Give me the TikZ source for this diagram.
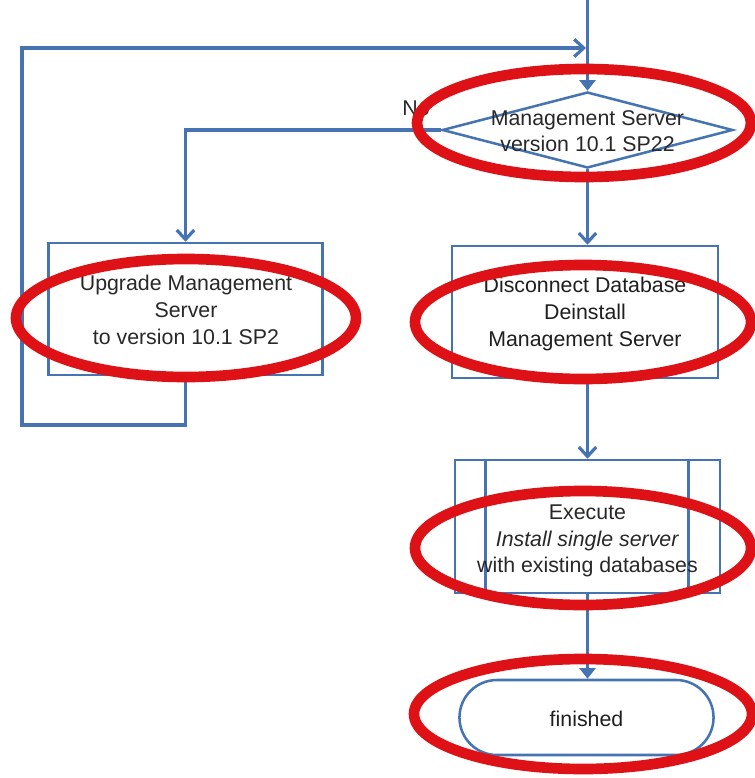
\documentclass[tikz,border=0pt]{standalone}
\usepackage{fontspec}
\setmainfont{Liberation Sans}
\usetikzlibrary{shapes.geometric,shapes.misc,arrows.meta}
\definecolor{flowblue}{RGB}{70,116,178}
\definecolor{markred}{RGB}{222,18,22}
\definecolor{txtgray}{RGB}{40,40,40}
\tikzset{
  flowline/.style={draw=flowblue, line width=2.4pt},
  boxline/.style={draw=flowblue, line width=1.9pt, fill=white},
  barb/.style={-{Straight Barb[length=7pt,width=13pt,line width=2.4pt]}},
  tri/.style={-{Triangle[length=8pt,width=12pt]}},
  txt/.style={text=txtgray, font=\fontsize{16}{20}\selectfont, align=center, inner sep=0pt},
  markell/.style={draw=markred, line width=8pt},
}
\begin{document}
\begin{tikzpicture}[x=0.75pt,y=-0.75pt]
\useasboundingbox (0,0) rectangle (754,778);
% nodes
\node[diamond, boxline, minimum width=218pt, minimum height=57pt, inner sep=0pt] (dec) at (587.5,130) {};
\node[txt] (dectxt) at (587.5,131) {Management Server\\version 10.1 SP22};
\node[rectangle, boxline, minimum width=205.5pt, minimum height=99pt] (up) at (185.5,309) {};
\node[txt] (uptxt) at (186,310) {Upgrade Management\\Server\\to version 10.1 SP2};
\node[rectangle, boxline, minimum width=199.5pt, minimum height=99pt] (dis) at (585,312) {};
\node[txt, text=black!88] (distxt) at (585,314) {Disconnect Database\\Deinstall\\Management Server};
\node[rectangle, boxline, minimum width=198.75pt, minimum height=99.75pt] (ex) at (587.5,526.5) {};
\draw[flowline, line width=1.9pt] ([xshift=24pt]ex.north west) -- ([xshift=24pt]ex.south west);
\draw[flowline, line width=1.9pt] ([xshift=-24.75pt]ex.north east) -- ([xshift=-24.75pt]ex.south east);
\node[txt] (extxt) at (587.5,541) {Execute\\\textit{Install single server}\\with existing databases};
\node[rounded rectangle, boxline, minimum width=197.25pt, minimum height=56.25pt] (fin) at (586.5,717.5) {};
\node[txt, text=black!88] (fintxt) at (586.5,719) {finished};
\node[txt, anchor=south east] (no) at (430,116) {No};
% coordinates
\coordinate (start) at (587.5,0);
\coordinate (lbot) at (22,425);
\coordinate (ltop) at (22,48);
\coordinate (join) at (586,48);
% connectors
\draw[flowline, tri] (start) -- (dec.north);
\draw[flowline, barb] (dec.west) -| (up.north);
\draw[flowline, barb] (up.south) |- (lbot) -- (ltop) -- (join);
\draw[flowline, barb] (dec.south) -- (dec.south |- dis.north);
\draw[flowline, barb] (dec.south |- dis.south) -- (dec.south |- ex.north);
\draw[flowline, tri] (ex.south) -- (ex.south |- fin.north);
% red markings
\draw[markell] (584,123) ellipse [x radius=167, y radius=54];
\draw[markell] (186,318) ellipse [x radius=170, y radius=59];
\draw[markell] (583,322) ellipse [x radius=168, y radius=57];
\draw[markell] (583,548) ellipse [x radius=168, y radius=57];
\draw[markell] (583,714) ellipse [x radius=169, y radius=55];
\end{tikzpicture}
\end{document}
